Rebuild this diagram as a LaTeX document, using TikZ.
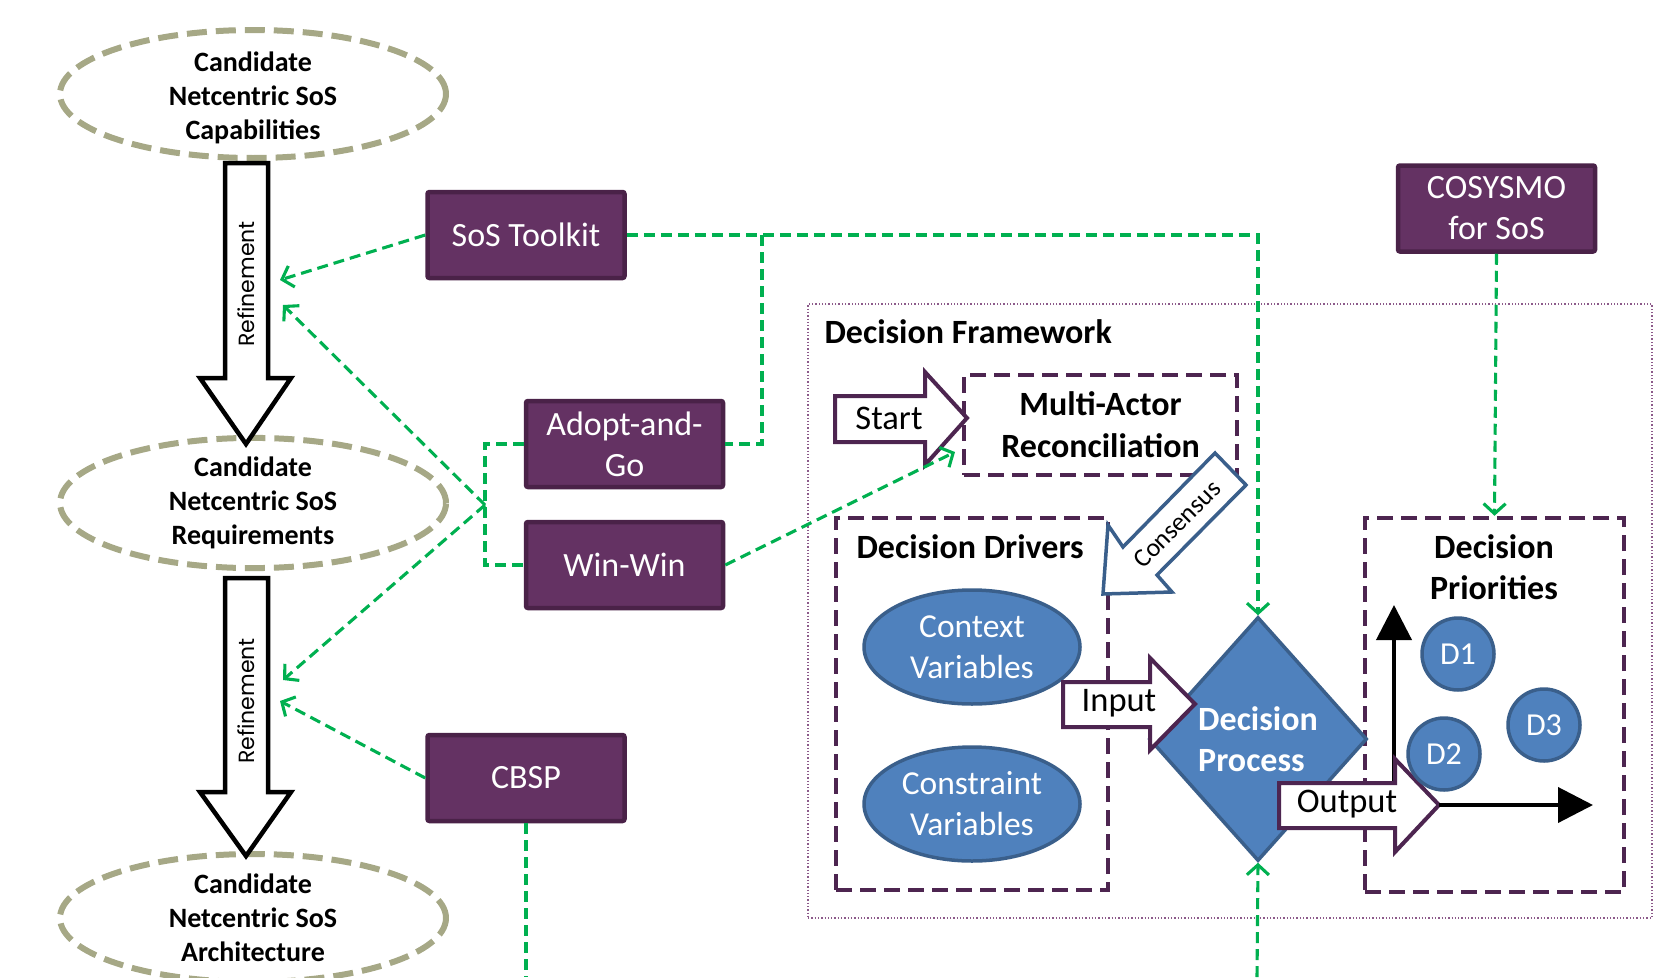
\documentclass[tikz,border=0pt]{standalone}
\usepackage{fontspec}
\setmainfont{Carlito}
\newfontfamily\gothicfont{Poppins}
\usetikzlibrary{arrows.meta,shapes.geometric}

\definecolor{toolfill}{HTML}{643263}
\definecolor{tooledge}{HTML}{4A2248}
\definecolor{goaledge}{HTML}{A6A886}
\definecolor{phaseedge}{HTML}{4D2550}
\definecolor{procfill}{HTML}{4F81BD}
\definecolor{procedge}{HTML}{3A5F8B}
\definecolor{linkgreen}{HTML}{00B050}
\definecolor{frameedge}{HTML}{8C5A8A}

\begin{document}
\begin{tikzpicture}[x=1pt,y=-1pt,
  tool/.style={rectangle, rounded corners=2pt, fill=toolfill, draw=tooledge, line width=4.5pt,
    minimum width=197pt, minimum height=86pt, inner sep=0pt, text=white, align=center,
    font=\fontsize{34}{41}\selectfont},
  goal/.style={ellipse, draw=goaledge, line width=6pt, dash pattern=on 20pt off 9pt,
    minimum width=386pt, minimum height=128pt, inner sep=0pt, align=center,
    font=\bfseries\fontsize{28}{34}\selectfont},
  goaltext/.style={align=center, inner sep=0pt, font=\bfseries\fontsize{28}{34}\selectfont},
  refine/.style={draw=black, fill=white, line width=4.5pt, line join=miter},
  refinetext/.style={rotate=90, font=\gothicfont\fontsize{22}{26}\selectfont},
  phase/.style={draw=phaseedge, line width=4.5pt, dash pattern=on 16pt off 8pt, inner sep=0pt},
  blockarrow/.style={draw=phaseedge, fill=white, line width=4pt, line join=miter},
  blocktext/.style={font=\fontsize{34.5}{40}\selectfont},
  driver/.style={ellipse, fill=procfill, draw=procedge, line width=3.5pt, minimum width=216pt,
    minimum height=114pt, inner sep=0pt, text=white, align=center, font=\fontsize{33.5}{41}\selectfont},
  prio/.style={circle, fill=procfill, draw=procedge, line width=3.5pt, minimum size=72pt,
    inner sep=0pt, text=white, font=\fontsize{32}{36}\selectfont},
  title/.style={font=\bfseries\fontsize{34}{41}\selectfont, align=center},
  link/.style={draw=linkgreen, line width=3.1pt, dash pattern=on 11pt off 6pt},
  linkto/.style={link, -{Straight Barb[length=10pt,width=22pt,line width=3.1pt]}},
  axis/.style={line width=4pt, -{Triangle[length=35pt,width=35pt]}},
]
\path[use as bounding box] (0,0) rectangle (1678,977);

% ---------- refinement chain ----------
\node[goal] (cap) at (253,94) {};
\node[goaltext] (captext) at (253,98) {Candidate\\Netcentric SoS\\Capabilities};
\node[goal] (req) at (253,503) {Candidate\\Netcentric SoS\\Requirements};
\node[goal] (arch) at (253,918) {Candidate\\Netcentric SoS\\Architecture};

\draw[refine] (225,163) -- (268,163) -- (268,378) -- (291,378) -- (246,444) -- (200,378) -- (225,378) -- cycle;
\node[refinetext] (ref1) at (246,284) {Refinement};
\draw[refine] (225,578) -- (268,578) -- (268,792) -- (291,792) -- (246,856) -- (200,792) -- (225,792) -- cycle;
\node[refinetext] (ref2) at (246,701) {Refinement};

\coordinate (r1a) at (280,280);
\coordinate (r1b) at (283,305);
\coordinate (r2a) at (283,680);
\coordinate (r2b) at (280,701);

% ---------- tools ----------
\node[tool] (toolkit) at (526,235) {SoS Toolkit};
\node[tool] (adopt) at (624.5,444) {Adopt-and-\\Go};
\node[tool] (winwin) at (624.5,565) {Win-Win};
\node[tool] (cbsp) at (526,778) {CBSP};
\node[tool] (cosysmo) at (1496.5,208.5) {COSYSMO\\for SoS};

% ---------- decision framework ----------
\node[draw=frameedge, line width=1.3pt, dotted, minimum width=844pt, minimum height=614pt, inner sep=0pt]
  (frame) at (1230,611) {};
\node[title, anchor=west] (fwtitle) at (821,332) {Decision Framework};

\node[phase, minimum width=273pt, minimum height=100pt, align=center,
  font=\bfseries\fontsize{34}{42}\selectfont] (mar) at (1100.5,425) {Multi-Actor\\Reconciliation};
\node[phase, minimum width=272pt, minimum height=372pt] (drivers) at (972,704) {};
\node[title, anchor=west] (drvtitle) at (853,547) {Decision Drivers};
\node[phase, minimum width=259pt, minimum height=374pt] (prio) at (1494.5,705) {};
\node[title] (priotitle) at (1494,567) {Decision\\Priorities};

\node[driver] (context) at (972,647) {Context\\Variables};
\node[driver] (constraint) at (972,804) {Constraint\\Variables};

% start arrow
\draw[blockarrow] (835,396) -- (925,396) -- (925,372) -- (967,418) -- (925,465) -- (925,442) -- (835,442) -- cycle;
\node[blocktext] (start) at (889,418) {Start};

% consensus arrow
\draw[draw=procedge, fill=white, line width=3.5pt, line join=miter]
  (1215,453) -- (1246,485) -- (1157,575) -- (1172,592) -- (1103,594) -- (1108,525) -- (1123,547) -- cycle;
\node[rotate=45, font=\fontsize{26}{30}\selectfont] (consensus) at (1177,524) {Consensus};

% decision process
\node[diamond, fill=procfill, draw=procedge, line width=3.5pt, minimum width=218pt, minimum height=244pt,
  inner sep=0pt, text=white, align=left, font=\bfseries\fontsize{34}{41}\selectfont]
  (dp) at (1258,739) {Decision\\Process};

% input arrow
\draw[blockarrow] (1063,682) -- (1150,682) -- (1150,658) -- (1195,704) -- (1150,750) -- (1150,727) -- (1063,727) -- cycle;
\node[blocktext] (input) at (1119,703) {Input};

% priority axes
\coordinate (origin) at (1394,783);
\coordinate (yend) at (1394,605);
\draw[axis] (origin) -- (yend);

% output arrow
\draw[blockarrow] (1279,783) -- (1395,783) -- (1395,759) -- (1439,805) -- (1395,852) -- (1395,828) -- (1279,828) -- cycle;
\node[blocktext] (output) at (1347,804) {Output};
\coordinate (xstart) at (1439,805);
\coordinate (xend) at (1593,805);
\draw[axis] (xstart) -- (xend);

\node[prio] (d1) at (1458,654) {D1};
\node[prio] (d2) at (1444,754) {D2};
\node[prio] (d3) at (1544,725) {D3};

% ---------- tool links ----------
\coordinate (tj) at (762,235);
\coordinate (bj) at (485,505);
\coordinate (marin) at (955,452);
\coordinate (cbspend) at (526,977);
\coordinate (dpfeed) at (1257,977);

\draw[linkto] (toolkit.west) -- (r1a);
\draw[linkto] (toolkit.east) -| (dp.north);
\draw[link] (tj) |- (adopt.east);
\draw[link] (adopt.west) -| (bj) |- (winwin.west);
\draw[linkto] (bj) -- (r1b);
\draw[linkto] (bj) -- (r2a);
\draw[linkto] (winwin.east) -- (marin);
\draw[linkto] (cbsp.west) -- (r2b);
\draw[link] (cbsp.south) -- (cbspend);
\draw[linkto] (cosysmo.south) -- (prio.north);
\draw[linkto] (dpfeed) -- (dp.south);
\end{tikzpicture}
\end{document}
